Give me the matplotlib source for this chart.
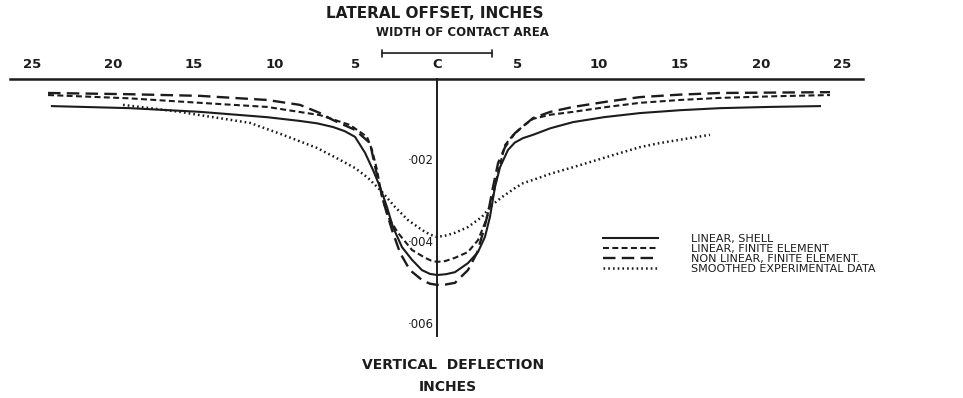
import numpy as np
import matplotlib.pyplot as plt

plt.rcParams['lines.scale_dashes'] = False

# lateral offset (in) and vertical deflection (thousandths of an inch)
shell_x = [-23.77, -18.95, -14.63, -10.49, -8.5, -7.4, -6.42, -5.7, -5.06, -4.44, -3.95,
           -3.52, -3.09, -2.72, -2.16, -1.54, -0.93, -0.45, 0.0, 0.55, 1.11, 1.91, 2.53,
           2.96, 3.27, 3.58, 3.89, 4.38, 4.8, 5.31, 5.93, 7.0, 8.4, 10.3, 12.53, 15.0,
           17.47, 20.5, 23.64]
shell_y = [0.71, 0.76, 0.85, 0.98, 1.07, 1.13, 1.22, 1.32, 1.46, 1.85, 2.27,
           2.68, 3.17, 3.66, 4.15, 4.46, 4.71, 4.80, 4.83, 4.81, 4.76, 4.54, 4.27,
           3.90, 3.41, 2.68, 2.20, 1.78, 1.60, 1.49, 1.41, 1.25, 1.10, 0.98, 0.88, 0.81,
           0.76, 0.73, 0.71]

fe_x = [-24.01, -19.0, -14.63, -10.49, -7.22, -5.37, -4.32, -4.01, -3.7, -3.40, -3.02,
        -2.41, -1.54, -0.74, -0.35, 0.0, 0.5, 1.11, 1.91, 2.53, 2.96, 3.40, 3.70, 4.2,
        4.69, 5.3, 5.93, 7.0, 8.4, 10.5, 12.53, 15.0, 17.47, 20.8, 24.26]
fe_y = [0.44, 0.52, 0.63, 0.73, 0.93, 1.17, 1.46, 1.78, 2.27, 2.93, 3.41,
        3.80, 4.22, 4.41, 4.48, 4.51, 4.49, 4.41, 4.27, 3.98, 3.56, 3.0, 2.44, 1.66,
        1.42, 1.20, 1.02, 0.92, 0.85, 0.73, 0.63, 0.56, 0.51, 0.47, 0.44]

nl_x = [-24.01, -19.0, -14.63, -10.49, -8.46, -7.22, -6.42, -5.06, -4.14, -3.95, -3.64,
        -3.21, -2.78, -2.28, -1.67, -0.93, -0.45, 0.0, 0.55, 1.11, 1.91, 2.47, 2.84,
        3.15, 3.46, 3.77, 4.20, 4.81, 5.93, 7.0, 8.4, 10.5, 12.53, 15.0, 17.47, 20.8,
        24.26]
nl_y = [0.39, 0.42, 0.46, 0.56, 0.68, 0.88, 1.05, 1.29, 1.61, 1.95, 2.51,
        3.17, 3.73, 4.29, 4.71, 4.95, 5.04, 5.07, 5.06, 5.02, 4.71, 4.29, 3.80,
        3.32, 2.68, 2.10, 1.71, 1.37, 1.00, 0.85, 0.73, 0.60, 0.49, 0.43, 0.39, 0.38,
        0.37]

exp_x = [-19.38, -15.86, -14.63, -11.54, -9.51, -7.41, -5.99, -5.06, -4.26, -3.40, -2.59,
         -1.79, -0.93, -0.45, 0.0, 0.5, 1.11, 1.91, 2.78, 3.40, 4.01, 4.81, 5.31, 5.93,
         7.0, 8.4, 10.49, 12.53, 13.77, 16.85]
exp_y = [0.68, 0.85, 0.93, 1.12, 1.41, 1.73, 2.02, 2.22, 2.46, 2.80, 3.17,
         3.49, 3.73, 3.84, 3.90, 3.87, 3.80, 3.66, 3.41, 3.12, 2.93, 2.71, 2.59, 2.51,
         2.36, 2.20, 1.95, 1.71, 1.61, 1.41]

tick_pos = [-25, -20, -15, -10, -5, 0, 5, 10, 15, 20, 25]
tick_lbl = ['25', '20', '15', '10', '5', 'C', '5', '10', '15', '20', '25']
defl_ticks = [0.002, 0.004, 0.006]
defl_lbl = ['·002', '·004', '·006']
contact_half = 3.4

ink = '#1c1c1c'
fig = plt.figure(figsize=(9.63, 3.98), dpi=100)
ax = fig.add_axes([10 / 963, 1 - 336 / 398, 853 / 963, 257 / 398])

def th(v):
    return np.array(v) * 1e-3

ax.plot(shell_x, th(shell_y), color=ink, lw=1.5, label='LINEAR, SHELL')
ax.plot(fe_x, th(fe_y), color=ink, lw=1.5, dashes=(4.3, 2.4), label='LINEAR, FINITE ELEMENT')
ax.plot(nl_x, th(nl_y), color=ink, lw=1.7, dashes=(9, 4.5), label='NON LINEAR, FINITE ELEMENT.')
ax.plot(exp_x, th(exp_y), color=ink, lw=1.8, dashes=(1.2, 2.2), label='SMOOTHED EXPERIMENTAL DATA')

ax.set_xlim((10 - 437) / 16.2, (863 - 437) / 16.2)
ax.set_ylim((336 - 77) / 41 * 1e-3, (79 - 77) / 41 * 1e-3)

for s in ['bottom', 'right']:
    ax.spines[s].set_visible(False)
ax.spines['top'].set_linewidth(1.8)
ax.spines['top'].set_color(ink)
ax.spines['left'].set_position(('data', 0))
ax.spines['left'].set_linewidth(1.4)
ax.spines['left'].set_color(ink)

ax.xaxis.tick_top()
ax.set_xticks(tick_pos)
ax.set_xticklabels(tick_lbl, fontsize=9.5, fontweight='bold', color=ink)
ax.tick_params(axis='x', length=0, pad=6)
ax.set_yticks(defl_ticks)
ax.set_yticklabels(defl_lbl, fontsize=8.5, color=ink)
ax.tick_params(axis='y', length=0, pad=2)

# contact width bracket above the axis
ax.annotate('', xy=(contact_half, 1.101), xytext=(-contact_half, 1.101),
            xycoords=ax.get_xaxis_transform(),
            arrowprops=dict(arrowstyle='|-|, widthA=0.25, widthB=0.25', color=ink, lw=1.2,
                            shrinkA=0, shrinkB=0))

fig.text(435 / 963, 1 - 14 / 398, 'LATERAL OFFSET, INCHES', ha='center', va='center',
         fontsize=11, fontweight='bold', color=ink)
fig.text(462 / 963, 1 - 33 / 398, 'WIDTH OF CONTACT AREA', ha='center', va='center',
         fontsize=8.5, fontweight='bold', color=ink)
fig.text(453 / 963, 1 - 365 / 398, 'VERTICAL  DEFLECTION', ha='center', va='center',
         fontsize=10, fontweight='bold', color=ink)
fig.text(448 / 963, 1 - 387 / 398, 'INCHES', ha='center', va='center',
         fontsize=10, fontweight='bold', color=ink)

ax.legend(loc='upper left', bbox_to_anchor=(597 / 963, 1 - 228 / 398),
          bbox_transform=fig.transFigure, frameon=False, fontsize=8,
          handlelength=5, handletextpad=3, labelspacing=0.0, borderpad=0,
          labelcolor=ink)

fig.savefig('out.png', dpi=100, facecolor='white')
